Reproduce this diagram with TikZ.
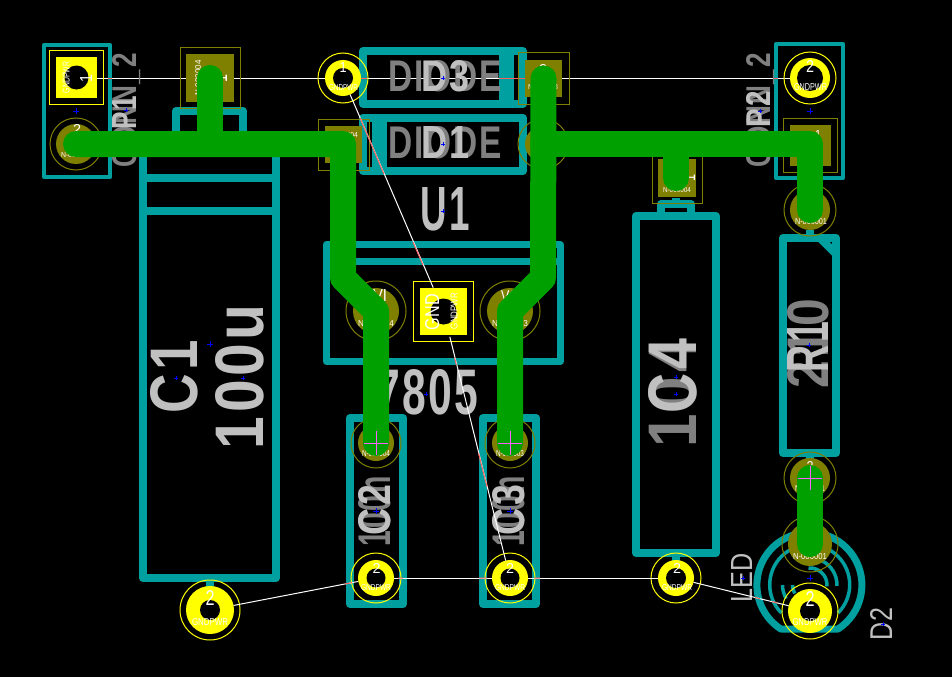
\documentclass[tikz,border=0pt]{standalone}
\usepackage{graphicx}
\usepackage{fontspec}
\setmainfont{Liberation Sans}
\newfontfamily\silkfont[LetterSpace=6]{Liberation Sans}
\newcommand\silktxt[1]{{\silkfont\bfseries #1\kern-.06em}}
\definecolor{silk}{HTML}{00A0A0}
\definecolor{cu}{HTML}{00A000}
\definecolor{padol}{HTML}{808000}
\definecolor{padye}{HTML}{FFFF00}
\definecolor{lgray}{HTML}{C0C0C0}
\definecolor{dgray}{HTML}{808080}
\definecolor{ratred}{HTML}{FF6060}
\definecolor{pinkx}{HTML}{FF60FF}
\definecolor{anch}{HTML}{0000FF}
\tikzset{
  silkline/.style={draw=silk,line width=#1,line join=round},
  silkline/.default=8pt,
  trackline/.style={draw=cu,line width=26pt,line join=round,line cap=round},
  ratline/.style={draw=white,line width=1pt},
  ratover/.style={draw=ratred,line width=1pt},
  lblstyle/.style={inner sep=0pt,outer sep=0pt},
  crossmark/.style={draw=pinkx,line width=1pt},
  anchmark/.style={draw=anch,line width=1pt},
}
\newcount\lblno
\newcommand\lbl[7]{\global\advance\lblno by 1
  \node[lblstyle,text=#4,rotate=#3] (lbl\the\lblno) at (#1,#2)
   {\raisebox{0pt}[\height][0pt]{\resizebox{#5pt}{#6pt}{#7}}};}
\newcommand\padround[7]{% name x y colour outer ring hole
  \coordinate (#1) at (#2,#3);
  \draw[#4,line width=1pt] (#1) circle[radius=#5];
  \fill[#4] (#1) circle[radius=#6];
  \fill[black] (#1) circle[radius=#7];}
\newcommand\padsq[7]{% name x y colour outer-half inner-half hole
  \coordinate (#1) at (#2,#3);
  \draw[#4,line width=1pt] (#2-#5,#3-#5) rectangle (#2+#5,#3+#5);
  \fill[#4] (#2-#6,#3-#6) rectangle (#2+#6,#3+#6);
  \fill[black] (#1) circle[radius=#7];}
\newcommand\anc[3]{\draw[anchmark] (#1-#3,#2) -- (#1+#3,#2) (#1,#2-#3) -- (#1,#2+#3);}
\newcommand\pink[2]{\draw[crossmark] (#1-12,#2) -- (#1+12,#2) (#1,#2-12) -- (#1,#2+12);}
\begin{document}
\begin{tikzpicture}[x=1pt,y=-1pt]
\fill[black] (0,0) rectangle (952,677);
\useasboundingbox (0,0) rectangle (952,677);

% ---- silkscreen
\draw[silkline=4pt] (44,45) rectangle (110,177);
\draw[silkline=4pt] (776,44) rectangle (843,178);
% C1
\draw[silkline] (143,144) rectangle (276,578);
\draw[silkline] (143,178) -- (276,178) (143,211) -- (276,211);
\draw[silkline] (176,144) -- (176,111) -- (243,111) -- (243,144);
\draw[silkline] (210,578) -- (210,590);
% D3 and D1
\draw[silkline] (363,51) rectangle (523,104);
\fill[silk] (499,55) rectangle (514,100);
\draw[silkline] (363,118) rectangle (523,171);
\fill[silk] (372,122) rectangle (387,167);
% U1
\draw[silkline=7pt] (326.5,244.5) rectangle (560,361.5);
\draw[silkline=7pt] (326.5,261.5) -- (560,261.5);
% C2, C3
\draw[silkline] (350,418) rectangle (403,604);
\draw[silkline] (483,418) rectangle (536,604);
% C4
\draw[silkline] (636,216) rectangle (716,553);
\draw[silkline] (661,216) -- (661,204) -- (691,204) -- (691,216);
\draw[silkline] (676,198) -- (676,204);
\draw[silkline] (676,553) -- (676,565);
% R1
\draw[silkline] (783,238) rectangle (836,453);
\draw[silkline] (820,238) -- (836,254);
\draw[silkline] (810,230) -- (810,238);
\draw[silkline] (810,453) -- (810,460);
% D2
\draw[silkline=7pt] (838,629) arc[start angle=57,end angle=-237,radius=52.5] -- cycle;
\draw[silkline=3.5pt] (838,613) arc[start angle=45,end angle=-225,radius=40];
\draw[silkline=3.5pt] (808.5,568) arc[start angle=-95,end angle=5,radius=17];
\draw[silkline=3.5pt] (821.4,560.5) arc[start angle=-65,end angle=2,radius=27];
\draw[silkline=3.5pt] (792.5,585) arc[start angle=180,end angle=150,radius=17];
\draw[silkline=3.5pt] (782.5,585) arc[start angle=180,end angle=150,radius=27];

% ---- pads
\coordinate (ratA) at (77,78);
\coordinate (ratB) at (810,78);
\draw[ratline] (ratA) -- (ratB);
\draw[ratover] (108,78) -- (112,78) (360,78) -- (367,78) (499,78) -- (525,78) (774,78) -- (778,78);

\padsq{p1a}{76.5}{77.5}{padye}{27}{20.5}{12}
\padround{p1b}{76}{144}{padol}{26}{20}{12}
\padsq{c1a}{210}{78}{padol}{30}{24}{10}
\padround{c1b}{210}{610}{padye}{30}{24}{10}
\padround{d3a}{343}{78}{padye}{25}{18}{10}
\padsq{d3b}{543.5}{78.5}{padol}{25.5}{18.5}{10}
\padsq{d1a}{343.5}{144.5}{padol}{25.5}{18.5}{10}
\padround{d1b}{543}{144}{padol}{25}{18}{10}
\padround{u1a}{376}{311}{padol}{30}{23}{10}
\padround{u1b}{510}{311}{padol}{30}{23}{10}
\padsq{u1g}{443.5}{311.5}{padye}{30}{23.5}{13}
\padround{c2a}{376}{443}{padol}{25}{18}{10}
\padround{c2b}{376}{578}{padye}{25}{18}{9.5}
\padround{c3a}{510}{443}{padol}{25}{18}{10}
\padround{c3b}{510}{578}{padye}{25}{18}{9.5}
\padsq{c4a}{677}{178}{padol}{25}{19}{10}
\padround{c4b}{676}{578}{padye}{25}{18}{10}
\padround{p2a}{810}{78}{padye}{26}{20}{13}
\padsq{p2b}{810.5}{145}{padol}{27}{20.5}{12}
\padround{r1a}{810}{210}{padol}{26}{20}{12}
\padround{r1b}{810}{478}{padol}{26}{20}{10}
\padround{d2a}{810}{544}{padol}{28}{22}{10}
\padround{d2b}{810}{611}{padye}{28}{22}{10}

% ---- pad texts
\lbl{66}{77.5}{90}{white}{31}{7}{GNDPWR}
\lbl{86}{78}{90}{white}{8}{12}{1}
\lbl{76}{155}{0}{white}{30}{5}{N-000004}
\lbl{77}{129}{0}{white}{8}{10}{2}
\lbl{198}{78}{90}{white}{35}{6}{N-000004}
\lbl{220}{78}{90}{white}{8}{14}{1}
\lbl{210}{622}{0}{white}{36}{7}{GNDPWR}
\lbl{210}{598}{0}{white}{9}{15}{2}
\lbl{343.5}{87}{0}{white}{29}{6}{GNDPWR}
\lbl{343}{68}{0}{white}{7}{10}{1}
\lbl{343}{135}{0}{white}{30}{5}{N-000004}
\lbl{543}{87}{0}{white}{30}{5}{N-000003}
\lbl{543}{69}{0}{white}{8}{10}{2}
\lbl{380}{295}{0}{white}{14}{12}{VI}
\lbl{376}{323}{0}{white}{36}{6}{N-000004}
\lbl{510}{296}{0}{white}{18}{12}{VO}
\lbl{510}{323}{0}{white}{36}{6}{N-000003}
\lbl{432}{312}{90}{white}{36}{14}{GND}
\lbl{454}{311}{90}{white}{36}{7}{GNDPWR}
\lbl{376}{453}{0}{white}{28}{6}{N-000004}
\lbl{510}{453}{0}{white}{28}{6}{N-000003}
\lbl{376}{587}{0}{white}{30}{6}{GNDPWR}
\lbl{376.5}{568}{0}{white}{8}{10}{2}
\lbl{510}{587}{0}{white}{30}{6}{GNDPWR}
\lbl{510}{568}{0}{white}{8}{10}{2}
\lbl{677}{190}{0}{white}{28}{5}{N-000004}
\lbl{689}{178}{90}{white}{7}{12}{1}
\lbl{677}{587}{0}{white}{30}{6}{GNDPWR}
\lbl{677}{568}{0}{white}{8}{10}{2}
\lbl{810.5}{87}{0}{white}{33}{7}{GNDPWR}
\lbl{810}{67}{0}{white}{8}{12}{2}
\lbl{818}{134}{0}{white}{6}{8}{1}
\lbl{811}{221}{0}{white}{32}{6}{N-000001}
\lbl{810}{488}{0}{white}{30}{6}{N-000001}
\lbl{810}{466}{0}{white}{7}{10}{2}
\lbl{810}{556}{0}{white}{34}{6}{N-000001}
\lbl{810}{622}{0}{white}{35}{7}{GNDPWR}
\lbl{810}{599}{0}{white}{9}{15}{2}

% ---- silkscreen texts
\lbl{124}{111}{90}{dgray}{112}{24}{\silktxt{CONN\_2}}
\lbl{124}{113}{90}{lgray}{32}{24}{\silktxt{P1}}
\lbl{758}{111}{90}{dgray}{112}{24}{\silktxt{CONN\_2}}
\lbl{758}{110}{90}{lgray}{34}{24}{\silktxt{P2}}
\lbl{444}{75.5}{0}{dgray}{112}{31}{\silktxt{DIODE}}
\lbl{444}{75.5}{0}{lgray}{46}{31}{\silktxt{D3}}
\lbl{444}{142}{0}{dgray}{112}{32}{\silktxt{DIODE}}
\lbl{444}{142}{0}{lgray}{46}{32}{\silktxt{D1}}
\lbl{444}{209}{0}{lgray}{47}{43}{\silktxt{U1}}
\lbl{426}{391.5}{0}{lgray}{100}{45}{\silktxt{7805}}
\lbl{173.5}{378}{90}{lgray}{70}{47}{\silktxt{C1}}
\lbl{239}{378.5}{90}{lgray}{141}{48}{\silktxt{100u}}
\lbl{374}{512}{90}{dgray}{68}{32}{\silktxt{100n}}
\lbl{374}{511}{90}{lgray}{48}{32}{\silktxt{C2}}
\lbl{508}{512}{90}{dgray}{68}{32}{\silktxt{100n}}
\lbl{508}{511}{90}{lgray}{48}{32}{\silktxt{C3}}
\lbl{672.5}{395}{90}{dgray}{104}{48}{\silktxt{104}}
\lbl{672.5}{377.5}{90}{lgray}{71}{48}{\silktxt{C4}}
\lbl{807.5}{345}{90}{dgray}{86}{41}{\silktxt{210}}
\lbl{807.5}{348}{90}{lgray}{48}{41}{\silktxt{R1}}
\lbl{741.5}{577.5}{90}{lgray}{49}{21}{LED}
\lbl{881}{624}{90}{lgray}{32}{22}{D2}

% ---- ratsnest
\draw[ratline,shorten <=18pt,shorten >=26pt] (d3a) -- (u1g);
\draw[ratline,shorten <=26pt,shorten >=18pt] (u1g) -- (c3b);
\draw[ratline,shorten <=24pt,shorten >=18pt] (c1b) -- (c2b);
\draw[ratline,shorten <=18pt,shorten >=18pt] (c2b) -- (c3b);
\draw[ratline,shorten <=18pt,shorten >=18pt] (c3b) -- (c4b);
\draw[ratline,shorten <=18pt,shorten >=22pt] (c4b) -- (d2b);
\draw[ratover] (360.1,118) -- (384,174) (413,242) -- (423,265)
  (454.6,358) -- (456.4,365) (478.5,453) -- (487.1,487)
  (345,584) -- (352,582.6) (755,597.5) -- (760,598.7) (772,601.6) -- (777,602.9)
  (398,578) -- (403,578) (479,578) -- (487,578) (534,578) -- (540,578);

% ---- tracks
\draw[trackline] (p1b) -- (343,144) -- (343,278) -- (376,311) -- (c2a);
\draw[trackline] (c1a) -- (210,144);
\draw[trackline] (d3b) -- (543,278) -- (510,311) -- (c3a);
\draw[trackline] (543,144) -- (810,144) -- (r1a);
\draw[trackline] (676,144) -- (676,178);
\draw[trackline] (r1b) -- (d2a);

% ---- crosshairs and anchors
\pink{376}{443}
\pink{510}{443}
\pink{810}{478}
\anc{76}{111}{3}
\anc{126}{110}{2}
\anc{760}{111}{2}
\anc{810}{111}{3}
\anc{443}{78}{2}
\anc{443}{144}{2}
\anc{443}{211}{2}
\anc{426}{394}{2}
\anc{210}{344}{3}
\anc{176}{378}{2}
\anc{243}{378}{2}
\anc{376}{511}{3}
\anc{510}{511}{3}
\anc{676}{377}{2}
\anc{676}{394}{2}
\anc{809}{345}{2}
\anc{743}{578}{2}
\anc{810}{578}{3}
\anc{883}{624}{2}
\end{tikzpicture}
\end{document}
